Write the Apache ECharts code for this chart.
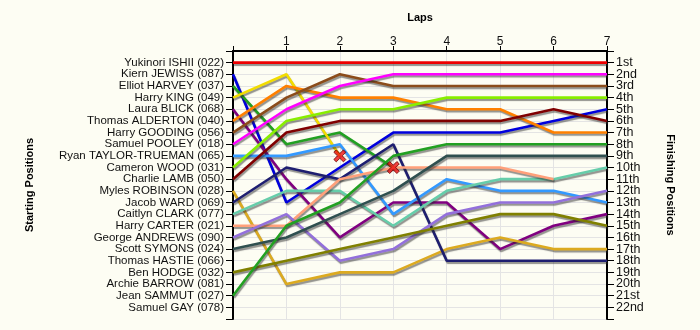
<!DOCTYPE html>
<html><head><meta charset="utf-8">
<script src="https://cdn.jsdelivr.net/npm/echarts@6/dist/echarts.min.js"></script>
<style>html,body{margin:0;padding:0;background:#fdfdf3;}#c{width:700px;height:330px;}</style>
</head><body><div id="c"></div>
<script>
const laps = [0, 1, 2, 3, 4, 5, 6, 7];
const startNames = ['Yukinori ISHII (022)','Kiern JEWISS (087)','Elliot HARVEY (037)','Harry KING (049)','Laura BLICK (068)','Thomas ALDERTON (040)','Harry GOODING (056)','Samuel POOLEY (018)','Ryan TAYLOR-TRUEMAN (065)','Cameron WOOD (031)','Charlie LAMB (050)','Myles ROBINSON (028)','Jacob WARD (069)','Caitlyn CLARK (077)','Harry CARTER (021)','George ANDREWS (090)','Scott SYMONS (024)','Thomas HASTIE (066)','Ben HODGE (032)','Archie BARROW (081)','Jean SAMMUT (027)','Samuel GAY (078)'];
const finishLabels = ['1st','2nd','3rd','4th','5th','6th','7th','8th','9th','10th','11th','12th','13th','14th','15th','16th','17th','18th','19th','20th','21st','22nd'];
// position per lap (lap 0 = start) for each driver, in starting order
const posIshii    = [1,1,1,1,1,1,1,1];
const posJewiss   = [2,13,10,7,7,7,6,5];
const posHarvey   = [3,8,7,10];
const posKing     = [4,2,9];
const posBlick    = [5,11,16,13,13,17,15,14];
const posAlderton = [6,3,4,4,5,5,7,7];
const posGooding  = [7,4,2,3,3,3,3,3];
const posPooley   = [8,5,3,2,2,2,2,2];
const posTaylor   = [9,9,8,14,11,12,12,13];
const posWood     = [10,6,5,5,4,4,4,4];
const posLamb     = [11,7,6,6,6,6,5,6];
const posRobinson = [12,20,19,19,17,16,17,17];
const posWard     = [13,10,11,8,18,18,18,18];
const posClark    = [14,12,12,15,12,11,11,10];
const posCarter   = [15,15,11,10,10,10,11];
const posAndrews  = [16,14,18,17,14,13,13,12];
const posSymons   = [17,16,14,12,9,9,9,9];
const posHastie   = [];
const posHodge    = [19,18,17,16,15,14,14,15];
const posBarrow   = [];
const posSammut   = [21,15,13,9,8,8,8,8];
const posGay      = [];
const positions = [posIshii,posJewiss,posHarvey,posKing,posBlick,posAlderton,posGooding,posPooley,posTaylor,posWood,posLamb,posRobinson,posWard,posClark,posCarter,posAndrews,posSymons,posHastie,posHodge,posBarrow,posSammut,posGay];
const retired = ['Elliot HARVEY (037)', 'Harry KING (049)'];

const colors = ['#ee0000','#0000dd','#22a022','#f2dc00','#800080','#ff8000','#8b4c1a','#ff00ff','#3399ff','#88ee00','#800000','#dcaa20','#1e1e70','#66cdaa','#ffa07a','#9370db','#2f4f4f','#888','#808000','#888','#22a022','#888'];

const font = 'Liberation Sans';
const series = [];
startNames.forEach((name, i) => {
  const p = positions[i];
  if (!p.length) return;
  series.push({
    name: name, type: 'line', symbol: 'none', z: 3,
    data: p.map((v, j) => [laps[j], v]),
    lineStyle: { color: colors[i], width: 2.6, shadowColor: 'rgba(40,40,40,0.5)', shadowBlur: 1, shadowOffsetX: 1, shadowOffsetY: 2 },
    itemStyle: { color: colors[i] }, silent: true, animation: false
  });
});
const xData = [];
startNames.forEach((name, i) => {
  if (retired.indexOf(name) >= 0) { const p = positions[i]; xData.push([laps[p.length - 1], p[p.length - 1]]); }
});
series.push({
  type: 'scatter', z: 10, animation: false, silent: true,
  symbol: 'path://M2,0 L5,3 L8,0 L10,2 L7,5 L10,8 L8,10 L5,7 L2,10 L0,8 L3,5 L0,2Z',
  symbolSize: 12,
  itemStyle: { color: '#ee1111', borderColor: '#660000', borderWidth: 1 },
  data: xData
});

const axisLine = { show: true, lineStyle: { color: '#000', width: 2 } };
const chart = echarts.init(document.getElementById('c'), null, { renderer: 'canvas' });
chart.setOption({
  backgroundColor: '#fdfdf3',
  animation: false,
  grid: { left: 233, right: 93, top: 51, bottom: 11, containLabel: false },
  xAxis: {
    type: 'value', position: 'top', min: 0, max: 7, interval: 1,
    name: 'Laps', nameLocation: 'middle', nameGap: 28,
    nameTextStyle: { fontFamily: font, fontWeight: 'bold', fontSize: 11, color: '#000' },
    axisLine: axisLine,
    axisTick: { show: true, length: 5, lineStyle: { color: '#000', width: 1 } },
    axisLabel: { fontFamily: font, fontSize: 12, color: '#111', margin: 3, formatter: v => v === 0 ? '' : String(v) },
    splitLine: { show: true, lineStyle: { color: '#e4e4e4', width: 1 } }
  },
  yAxis: [
    {
      type: 'value', position: 'left', min: 0, max: 23, interval: 1, inverse: true,
      name: 'Starting Positions', nameLocation: 'middle', nameGap: 198, nameRotate: 90,
      nameTextStyle: { fontFamily: font, fontWeight: 'bold', fontSize: 11, color: '#000' },
      axisLine: axisLine,
      axisTick: { show: true, length: 7, lineStyle: { color: '#000', width: 1 } },
      axisLabel: { fontFamily: font, fontSize: 11.5, color: '#111', margin: 9, formatter: v => (v >= 1 && v <= 22) ? startNames[v - 1] : '' },
      splitLine: { show: true, lineStyle: { color: '#e4e4e4', width: 1 } }
    },
    {
      type: 'value', position: 'right', min: 0, max: 23, interval: 1, inverse: true,
      name: 'Finishing Positions', nameLocation: 'middle', nameGap: 58, nameRotate: -90,
      nameTextStyle: { fontFamily: font, fontWeight: 'bold', fontSize: 11, color: '#000' },
      axisLine: axisLine,
      axisTick: { show: true, length: 7, lineStyle: { color: '#000', width: 1 } },
      axisLabel: { fontFamily: font, fontSize: 12.5, color: '#111', margin: 9, formatter: v => (v >= 1 && v <= 22) ? finishLabels[v - 1] : '' },
      splitLine: { show: false }
    }
  ],
  series: series
});
</script></body></html>
